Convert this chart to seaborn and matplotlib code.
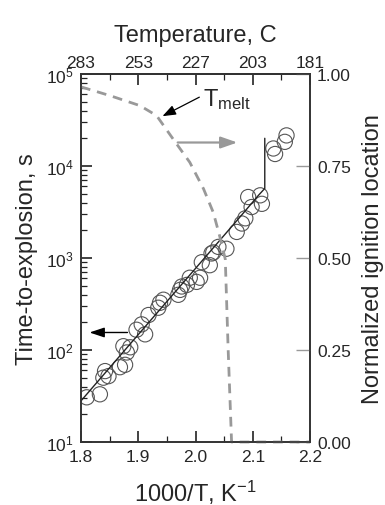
import numpy as np
import pandas as pd
import matplotlib
matplotlib.use("Agg")
import matplotlib.pyplot as plt
from matplotlib.ticker import MultipleLocator, LogLocator, NullFormatter
import seaborn as sns

# measured time-to-explosion (1000/T, seconds)
inv_t = [1.810, 1.833, 1.839, 1.848, 1.842, 1.868, 1.877, 1.874, 1.886, 1.880,
         1.897, 1.906, 1.912, 1.918, 1.935, 1.938, 1.944, 1.970, 1.976, 1.973,
         1.985, 1.990, 2.002, 2.008, 2.011, 2.025, 2.028, 2.031, 2.040, 2.054,
         2.072, 2.081, 2.087, 2.092, 2.098, 2.113, 2.116, 2.136, 2.139, 2.156,
         2.159]
time_s = [30.6, 33, 50, 52, 59, 65, 69, 110, 107, 94,
          166, 190, 148, 240, 288, 326, 352, 398, 490, 450,
          510, 610, 550, 610, 900, 835, 1120, 1150, 1320, 1260,
          1920, 2370, 2700, 4600, 3580, 4800, 3880, 15500, 13500, 18300,
          21500]

# model curve
fit_x = [1.80, 1.90, 2.00, 2.08, 2.11, 2.121, 2.121]
fit_y = [28, 147, 770, 2900, 4800, 5700, 20000]

# normalized ignition location (right axis)
loc_x = [1.800, 1.851, 1.903, 1.932, 1.961, 1.990, 2.014, 2.031, 2.042, 2.052,
         2.057, 2.063, 2.200]
loc_y = [0.965, 0.941, 0.914, 0.887, 0.823, 0.760, 0.688, 0.624, 0.561, 0.497,
         0.253, 0.0, 0.0]

bottom_ticks = [1.8, 1.9, 2.0, 2.1, 2.2]
top_labels = ["283", "253", "227", "203", "181"]
right_ticks = [0.0, 0.25, 0.50, 0.75, 1.00]

sns.set_style("ticks")
plt.rcParams["font.family"] = ["Liberation Sans", "DejaVu Sans"]
plt.rcParams["mathtext.fontset"] = "custom"
plt.rcParams["mathtext.rm"] = "Liberation Sans"
plt.rcParams["mathtext.it"] = "Liberation Sans"

fig = plt.figure(figsize=(3.85, 5.06), dpi=100)
ax = fig.add_axes([0.2104, 0.1245, 0.5948, 0.7273])

pts = pd.DataFrame({"x": inv_t, "y": time_s})
sns.scatterplot(data=pts, x="x", y="y", ax=ax, marker="o", s=120,
                facecolor="none", edgecolor="#555555", linewidth=0.8, zorder=3)
fit = pd.DataFrame({"x": fit_x, "y": fit_y})
sns.lineplot(data=fit, x="x", y="y", ax=ax, sort=False, estimator=None,
             color="#222222", linewidth=1.0, zorder=4)

ax.set_yscale("log")
ax.set_xlim(1.8, 2.2)
ax.set_ylim(10, 1e5)
ax.set_xticks(bottom_ticks)
ax.set_xticklabels(["1.8", "1.9", "2.0", "2.1", "2.2"])
ax.xaxis.set_minor_locator(MultipleLocator(0.05))
ax.yaxis.set_major_locator(LogLocator(base=10, numticks=10))
ax.yaxis.set_minor_locator(LogLocator(base=10, subs=np.arange(2, 10), numticks=10))
ax.yaxis.set_minor_formatter(NullFormatter())
ax.tick_params(which="major", direction="in", length=8, width=1.2,
               labelsize=12.5, color="#222222", pad=5)
ax.tick_params(which="minor", direction="in", length=4, width=0.9, color="#222222")
ax.tick_params(axis="x", which="both", top=False)
ax.set_xlabel("1000/T, K$^{-1}$", fontsize=17, labelpad=10)
ax.set_ylabel("Time-to-explosion, s", fontsize=17, labelpad=6)
for sp in ax.spines.values():
    sp.set_linewidth(1.2)
    sp.set_color("#333333")

ax2 = ax.twinx()
loc = pd.DataFrame({"x": loc_x, "y": loc_y})
sns.lineplot(data=loc, x="x", y="y", ax=ax2, sort=False, estimator=None,
             color="#999999", linewidth=2.0, linestyle=(0, (3.5, 2.5)),
             clip_on=False)
ax2.set_ylim(0, 1)
ax2.set_xlim(1.8, 2.2)
ax2.set_yticks(right_ticks)
ax2.set_yticklabels(["0.00", "0.25", "0.50", "0.75", "1.00"])
ax2.tick_params(axis="y", direction="in", length=10, width=1.0, color="#999999",
                labelsize=12.5, pad=5)
ax2.set_ylabel("Normalized ignition location", fontsize=17, labelpad=8)
ax2.set_xlabel("")
for sp in ax2.spines.values():
    sp.set_linewidth(1.2)
    sp.set_color("#333333")

top = ax.secondary_xaxis("top")
top.set_xticks(bottom_ticks, labels=top_labels)
top.xaxis.set_minor_locator(MultipleLocator(0.05))
top.tick_params(which="major", direction="in", length=8, width=1.2,
                labelsize=12.5, color="#222222", pad=3)
top.tick_params(which="minor", direction="in", length=4, width=0.9, color="#222222")
top.set_xlabel("Temperature, C", fontsize=17, labelpad=10)
top.spines["top"].set_linewidth(1.2)

# annotations
ax.annotate("", xy=(1.938, 33700), xytext=(2.011, 57800),
            arrowprops=dict(arrowstyle="-|>,head_length=0.8,head_width=0.3",
                            color="black", lw=0.9), zorder=5)
ax.text(2.013, 46000, "T$_{\\mathrm{melt}}$", fontsize=17, ha="left",
        va="baseline")
ax.annotate("", xy=(2.078, 18000), xytext=(1.964, 18000),
            arrowprops=dict(arrowstyle="-|>,head_length=1.0,head_width=0.35",
                            color="#999999", lw=1.6), zorder=5)
ax.annotate("", xy=(1.810, 155), xytext=(1.886, 155),
            arrowprops=dict(arrowstyle="-|>,head_length=0.9,head_width=0.3",
                            color="black", lw=1.0), zorder=5)

fig.savefig("out.png", dpi=100)
